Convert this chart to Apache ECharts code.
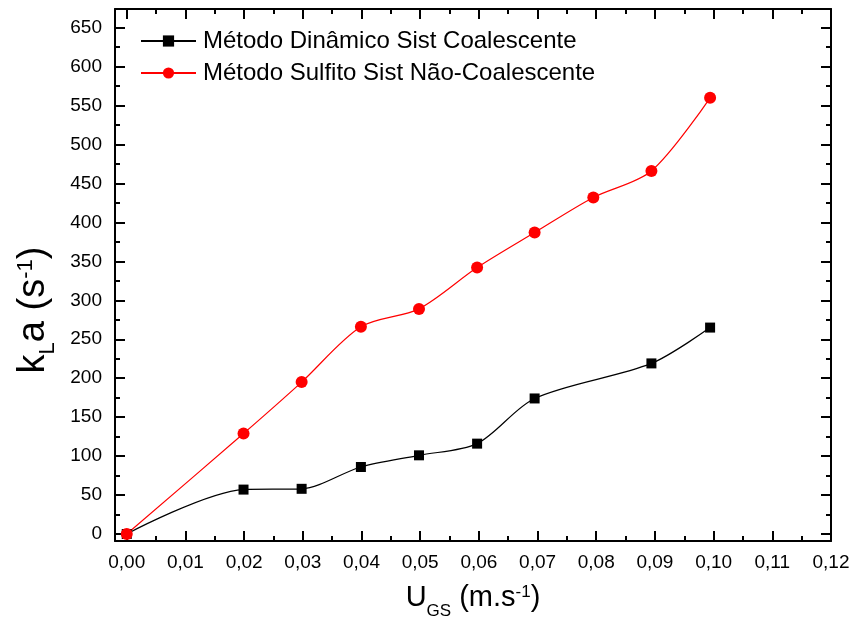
<!DOCTYPE html>
<html>
<head>
<meta charset="utf-8">
<script src="https://cdn.jsdelivr.net/npm/echarts@6/dist/echarts.min.js"></script>
<style>html,body{margin:0;padding:0;background:#fff;}#c{width:854px;height:627px;}</style>
</head>
<body>
<div id="c"></div>
<script>
// Data
const xDinamico = [0.0, 0.0199, 0.0298, 0.0399, 0.0498, 0.0597, 0.0695, 0.0894, 0.0994];
const yDinamico = [0, 57, 58, 86, 101, 116, 174, 219, 265];
const xSulfito = [0.0, 0.0199, 0.0298, 0.0399, 0.0498, 0.0597, 0.0695, 0.0795, 0.0894, 0.0994];
const ySulfito = [0, 129, 195, 266, 289, 342, 387, 432, 466, 560];
const seriesNames = ['Método Dinâmico Sist Coalescente', 'Método Sulfito Sist Não-Coalescente'];
const xMajorTicks = [0, 0.01, 0.02, 0.03, 0.04, 0.05, 0.06, 0.07, 0.08, 0.09, 0.10, 0.11, 0.12];
const xMinorTicks = [0.005, 0.015, 0.025, 0.035, 0.045, 0.055, 0.065, 0.075, 0.085, 0.095, 0.105, 0.115];
const yMajorTicks = [0, 50, 100, 150, 200, 250, 300, 350, 400, 450, 500, 550, 600, 650];
const yMinorTicks = [25, 75, 125, 175, 225, 275, 325, 375, 425, 475, 525, 575, 625];

const X_MIN = -0.002, X_MAX = 0.12, Y_MIN = -9, Y_MAX = 674;
const FONT = 'Liberation Sans, Arial, sans-serif';
const lineStyle = { color: '#000', width: 2 };

function xAxisDef(pos, ticks, len, showLine, showLabel, extra) {
  return Object.assign({
    type: 'value', position: pos, min: X_MIN, max: X_MAX,
    axisLine: { show: showLine, onZero: false, lineStyle: lineStyle },
    axisTick: { show: true, inside: true, length: len, customValues: ticks, lineStyle: lineStyle },
    axisLabel: showLabel ? {
      customValues: ticks, color: '#000', fontSize: 19, fontFamily: FONT, margin: 12,
      formatter: v => v.toFixed(2).replace('.', ',')
    } : { show: false },
    splitLine: { show: false }
  }, extra || {});
}
function yAxisDef(pos, ticks, len, showLine, showLabel, extra) {
  return Object.assign({
    type: 'value', position: pos, min: Y_MIN, max: Y_MAX,
    axisLine: { show: showLine, onZero: false, lineStyle: lineStyle },
    axisTick: { show: true, inside: true, length: len, customValues: ticks, lineStyle: lineStyle },
    axisLabel: showLabel ? {
      customValues: ticks, color: '#000', fontSize: 19, fontFamily: FONT, margin: 13,
      formatter: v => String(v)
    } : { show: false },
    splitLine: { show: false }
  }, extra || {});
}

const chart = echarts.init(document.getElementById('c'), null, { renderer: 'canvas' });
const option = {
  backgroundColor: '#fff',
  animation: false,
  grid: { left: 115, right: 23, top: 9, bottom: 86, containLabel: false },
  legend: {
    left: 140, top: 29, orient: 'vertical', padding: 0,
    itemWidth: 55, itemHeight: 14, itemGap: 8,
    textStyle: { fontSize: 24, fontFamily: FONT, color: '#000', padding: [0, 0, 0, 2] },
    data: seriesNames
  },
  xAxis: [
    xAxisDef('bottom', xMajorTicks, 10, true, true, {
      name: '{m|U}{sub|GS}{m| (m.s}{sup|-1}{m|)}',
      nameLocation: 'middle', nameGap: 42,
      nameTextStyle: {
        fontFamily: FONT, color: '#000',
        rich: {
          m: { fontSize: 29, fontFamily: FONT, color: '#000', lineHeight: 30, verticalAlign: 'top' },
          sub: { fontSize: 17, fontFamily: FONT, color: '#000', lineHeight: 18, verticalAlign: 'top', padding: [20, 0, 0, 0] },
          sup: { fontSize: 17, fontFamily: FONT, color: '#000', lineHeight: 18, verticalAlign: 'top', padding: [1, 0, 0, 0] }
        }
      }
    }),
    xAxisDef('bottom', xMinorTicks, 5, false, false),
    xAxisDef('top', xMajorTicks, 10, true, false),
    xAxisDef('top', xMinorTicks, 5, false, false)
  ],
  yAxis: [
    yAxisDef('left', yMajorTicks, 10, true, true, {
      name: '{m|k}{sub|L}{m|a (s}{sup|-1}{m|)}',
      nameLocation: 'middle', nameGap: 57, nameRotate: 90,
      nameTextStyle: {
        fontFamily: FONT, color: '#000', padding: [0, 70, 0, 0],
        rich: {
          m: { fontSize: 38, fontFamily: FONT, color: '#000', lineHeight: 38, verticalAlign: 'top' },
          sub: { fontSize: 22, fontFamily: FONT, color: '#000', lineHeight: 22, verticalAlign: 'top', padding: [23, 0, 0, 0] },
          sup: { fontSize: 22, fontFamily: FONT, color: '#000', lineHeight: 22, verticalAlign: 'top', padding: [1, 0, 0, 0] }
        }
      }
    }),
    yAxisDef('left', yMinorTicks, 5, false, false),
    yAxisDef('right', yMajorTicks, 10, true, false),
    yAxisDef('right', yMinorTicks, 5, false, false)
  ],
  series: [
    {
      name: seriesNames[0], type: 'line', xAxisIndex: 0, yAxisIndex: 0,
      data: xDinamico.map((x, i) => [x, yDinamico[i]]),
      smooth: 0.3, symbol: 'rect', symbolSize: 10,
      lineStyle: { color: '#000', width: 1.2 }, itemStyle: { color: '#000' }
    },
    {
      name: seriesNames[1], type: 'line', xAxisIndex: 0, yAxisIndex: 0,
      data: xSulfito.map((x, i) => [x, ySulfito[i]]),
      smooth: 0.3, symbol: 'circle', symbolSize: 12,
      lineStyle: { color: '#ff0000', width: 1.2 }, itemStyle: { color: '#ff0000' }
    }
  ]
};
chart.setOption(option);
</script>
</body>
</html>
